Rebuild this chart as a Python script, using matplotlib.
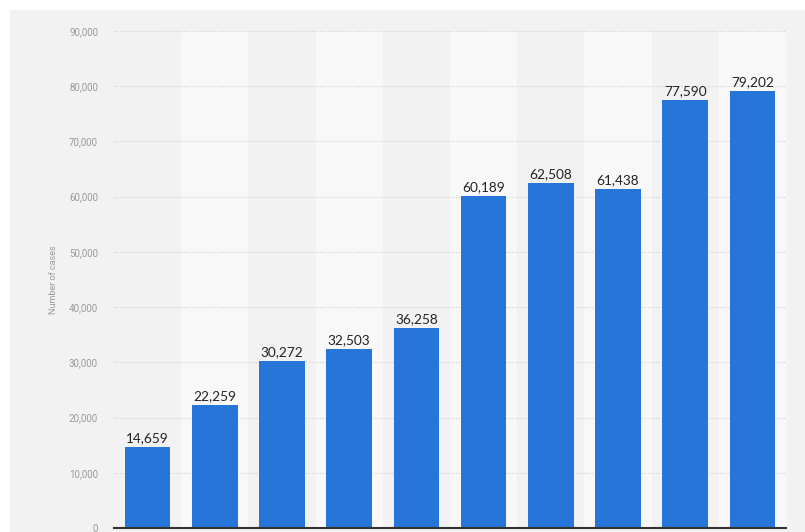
import matplotlib
matplotlib.use("Agg")
import matplotlib.pyplot as plt
from matplotlib.patches import Rectangle
import numpy as np

values = [14659, 22259, 30272, 32503, 36258, 60189, 62508, 61438, 77590, 79202]
yticks = [0, 10000, 20000, 30000, 40000, 50000, 60000, 70000, 80000, 90000]
ylabel = "Number of cases"

fig = plt.figure(figsize=(8.05, 5.32), dpi=100)
fig.patch.set_facecolor("white")
fig.patches.append(Rectangle((10/805, 0), 1, 1 - 10/532, transform=fig.transFigure,
                             facecolor="#f2f2f2", edgecolor="none", zorder=-10))

ax = fig.add_axes([114/805, 4/532, (786-114)/805, (528-31)/532])
ax.set_facecolor("#f2f2f2")
x = np.arange(len(values))
for i in x:
    if i % 2 == 1:
        ax.axvspan(i - 0.5, i + 0.5, color="#f8f8f8", zorder=0, lw=0)

for yv in yticks[1:]:
    ax.axhline(yv, color="#d0d0d0", lw=0.8, ls=(0, (1, 1.5)), zorder=1, clip_on=False)

bars = ax.bar(x, values, width=0.68, color="#2775d9", zorder=2)
for xi, v in zip(x, values):
    ax.annotate(f"{v:,}", (xi, v), xytext=(0, 2), textcoords="offset points",
                ha="center", va="bottom", fontsize=9.8, color="#222222",
                family="Lato")

ax.set_xlim(-0.5, len(values) - 0.5)
ax.set_ylim(0, 90000)
ax.set_yticks(yticks)
ax.set_yticklabels([f"{t:,}" for t in yticks], fontsize=7, color="#999999", family="Roboto")
ax.tick_params(axis="y", length=0, pad=11.5)
ax.set_xticks([])
for s in ["top", "right", "left"]:
    ax.spines[s].set_visible(False)
ax.spines["bottom"].set_color("#333333")
ax.spines["bottom"].set_linewidth(1.5)
ax.spines["bottom"].set_zorder(3)
ax.set_ylabel(ylabel, fontsize=6.5, color="#999999", family="Roboto", labelpad=8)

fig.savefig("out.png", dpi=100, facecolor=fig.get_facecolor())
